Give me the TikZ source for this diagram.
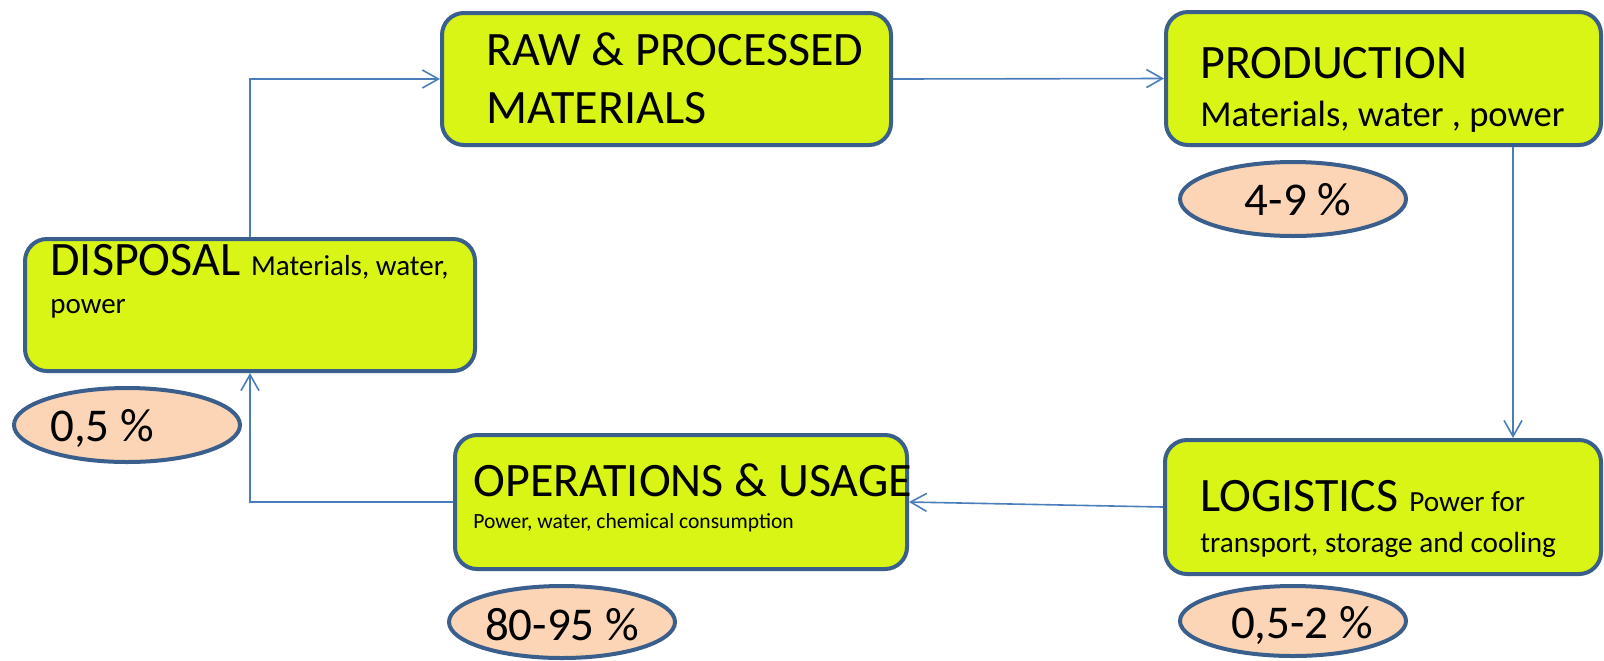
\documentclass[tikz,border=0pt]{standalone}
\usepackage{fontspec}
\setmainfont{Carlito}
\usetikzlibrary{arrows.meta,shapes.geometric}
\definecolor{boxfill}{RGB}{216,245,22}
\definecolor{boxline}{RGB}{58,95,140}
\definecolor{flow}{RGB}{74,126,187}
\definecolor{peach}{RGB}{251,213,181}
\tikzset{
  stage/.style={draw=boxline, fill=boxfill, line width=2pt, rounded corners=11pt, inner sep=0pt},
  share/.style={draw=boxline, fill=peach, ellipse, line width=2pt, inner sep=0pt,
                minimum width=113pt, minimum height=37pt},
  txt/.style={inner sep=0pt, text=black, anchor=base west},
  big/.style={font=\fontsize{24}{28}\selectfont},
  pcttxt/.style={inner sep=0pt, text=black, anchor=base, font=\fontsize{23.5}{28}\selectfont},
  flowline/.style={draw=flow, line width=0.8pt, -{Straight Barb[length=8pt,width=9pt,line width=0.8pt]}}
}
\newcommand{\smalltext}[1]{\fontsize{#1}{#1}\selectfont}
\begin{document}
\begin{tikzpicture}[x=0.5pt,y=-0.5pt]
\useasboundingbox (0,0) rectangle (1604,660);

% stage boxes
\node[stage, minimum width=225pt, minimum height=66pt] (disp) at (250,305) {};
\node[stage, minimum width=224.5pt, minimum height=66pt] (raw) at (666.5,79) {};
\node[stage, minimum width=217.5pt, minimum height=66.5pt] (prod) at (1383.5,78.5) {};
\node[stage, minimum width=218pt, minimum height=67pt] (logi) at (1383,507) {};
\node[stage, minimum width=226pt, minimum height=67pt] (ops) at (681,502) {};

% stage labels
\node[txt, big] (rawA) at (486,65) {RAW \& PROCESSED};
\node[txt, big] (rawB) at (486,123) {MATERIALS};
\node[txt, big] (prodA) at (1200,78) {PRODUCTION};
\node[txt, font=\smalltext{18.3}] (prodB) at (1200,126) {Materials, water , power};
\node[txt, big] (dispA) at (50,275) {DISPOSAL {\smalltext{14.5}Materials, water,}};
\node[txt, font=\smalltext{14.5}] (dispB) at (50,313) {power};
\node[txt, big] (logiA) at (1200,511) {LOGISTICS {\smalltext{14.6}Power for}};
\node[txt, font=\smalltext{14.6}] (logiB) at (1200,552) {transport, storage and cooling};
\node[txt, big] (opsA) at (473,496) {OPERATIONS \& USAGE};
\node[txt, font=\smalltext{10.8}] (opsB) at (473,528) {Power, water, chemical consumption};

% share ellipses
\node[share] (pDisp) at (127,425) {};
\node[share] (pProd) at (1293,199) {};
\node[share, minimum height=36pt] (pOps) at (562,622) {};
\node[share, minimum height=35pt] (pLogi) at (1293,621) {};
\node[pcttxt] (pDispT) at (102,441) {0,5 \%};
\node[pcttxt] (pProdT) at (1298,215) {4-9 \%};
\node[pcttxt] (pOpsT) at (562,640) {80-95 \%};
\node[pcttxt] (pLogiT) at (1302,638) {0,5-2 \%};

% flow connectors
\coordinate (drop) at (1513,0);
\draw[flowline] (disp.north) |- (raw.west);
\draw[flowline] (raw.east) -- (prod.west);
\draw[flowline] (prod.south -| drop) -- (logi.north -| drop);
\draw[flowline] (logi.west) -- (ops.east);
\draw[flowline] (ops.west) -| (disp.south);
\end{tikzpicture}
\end{document}
